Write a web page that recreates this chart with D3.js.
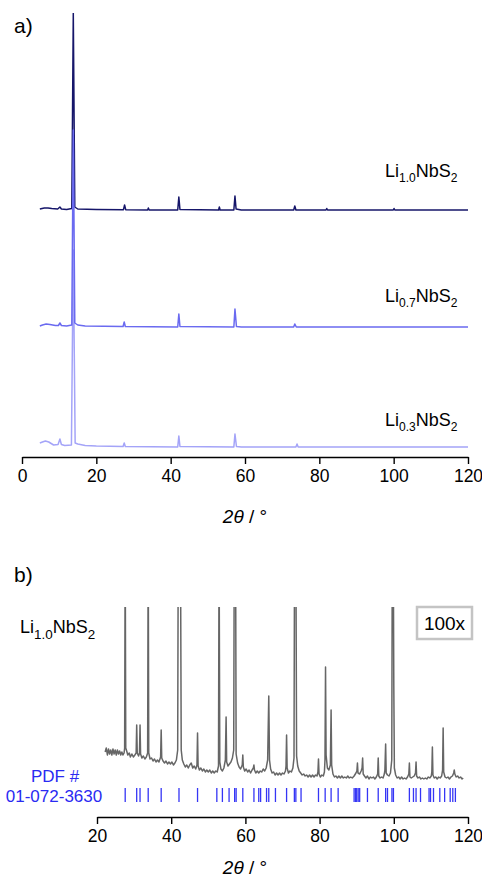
<!DOCTYPE html>
<html lang="en">
<head>
<meta charset="UTF-8" />
<title>XRD LixNbS2</title>
<script src="https://d3js.org/d3.v7.min.js"></script>
<style>
    body { margin: 0; background: #fff; font-family: "Liberation Sans", Arial, sans-serif; }
    .axis path, .axis line { stroke: #000; stroke-width: 1.4; }
    .axis text { font-size: 17.5px; fill: #000; font-family: "Liberation Sans", Arial, sans-serif; }
    .trace { fill: none; stroke-linejoin: round; }
    .lbl { font-size: 18px; fill: #000; }
    .pdf { font-size: 17px; fill: #2a2af2; }
</style>
</head>
<body>
<div id="chart"></div>
<script>
// panel a: [2theta, intensity above its own baseline]
var li10 = [[4.8,1],[6,2],[7,2],[8,1.5],[9.6,1],[10.2,3],[10.6,1],[12,0.5],[13.4,1.5],[13.8,197],[14.2,3],[15,1],[20,0.5],
    [27.3,0.3],[27.6,5],[27.9,0.3],[33.8,0],[34.0,2],[34.2,0],[41.9,0],[42.2,13],[42.5,0.5],[52.9,0],[53.1,3],[53.3,0],
    [57.0,0],[57.3,14],[57.6,1],[59,0],[73.1,0],[73.4,4],[73.7,0],[81.8,0],[82,1.5],[82.2,0],[99.9,0],[100.1,1.5],[100.3,0],[120,0]];
var li07 = [[4.8,1],[5.5,2],[6.5,3],[7.5,2.5],[9,1.5],[9.8,1.5],[10.2,4],[10.6,1.5],[12,1],[13.4,2],[13.8,197],[14.2,4],[15,2],[17,1],
    [27.2,0.5],[27.5,5],[27.8,0.5],[41.9,0],[42.2,13],[42.5,0.5],[57.0,0],[57.3,18],[57.7,0.5],[59,0],[73.1,0],[73.4,3],[73.8,0],[120,0]];
var li03 = [[4.8,4],[5.5,5],[6.3,6],[7.2,5],[8.5,2],[9.7,2.5],[10.2,8],[10.6,2.5],[11.5,1.5],[13.3,2],[13.8,197],[14.3,4],[15,3],[17,1.5],
    [20,1],[27.2,0.5],[27.5,4],[27.8,0.5],[41.9,0],[42.2,11],[42.5,0.5],[57.0,0],[57.3,13],[57.7,0.5],[59,0],[73.7,0],[74,3],[74.3,0],[120,0]];
var offsetsA = [237, 120, 0];
var namesA = ["1.0", "0.7", "0.3"];
var colorsA = ["#16166a", "#6a6af0", "#a4a4f8"];

// panel b: Li1.0NbS2 x100, [2theta, counts]
var li10zoom = [[22.2,38],[22.5,42],[22.8,35],[23.1,41],[23.4,36],[23.7,40],[24,35],[24.3,41],[24.6,36],[24.9,40],[25.2,35],[25.5,40],
    [25.8,36],[26.1,39],[26.4,35],[26.7,38],[27.0,35],[27.3,37],[27.45,42],[27.6,250],[27.75,42],[28,39],[28.3,35],[28.7,37],[29,33],[29.4,36],
    [29.8,33],[30.2,35],[30.55,37],[30.7,65],[30.85,37],[31.2,34],[31.45,37],[31.6,65],[31.75,36],[32.1,32],[32.5,34],[32.9,31],[33.3,33],
    [33.65,37],[33.8,250],[33.95,37],[34.3,31],[34.7,32],[35.1,29],[35.5,31],[35.9,28],[36.3,30],[36.7,28],[37.15,33],[37.3,60],[37.45,32],
    [37.8,29],[38.2,27],[38.6,29],[39,26],[39.4,28],[39.8,26],[40.2,28],[40.6,25],[41,27],[41.4,30],[41.75,40],[41.9,250],[42.5,250],[42.7,40],
    [43,30],[43.4,26],[43.8,23],[44.2,25],[44.6,22],[45,25],[45.4,27],[45.8,22],[46.2,24],[46.6,21],[46.95,25],[47.1,57],[47.25,24],[47.6,20],
    [48,22],[48.4,19],[48.8,21],[49.2,18],[49.6,20],[50,18],[50.4,20],[50.8,17],[51.2,19],[51.6,17],[52,19],[52.4,18],[52.75,24],[52.9,250],
    [53.1,28],[53.4,21],[53.8,19],[54.2,22],[54.6,30],[54.8,73],[54.95,28],[55.3,24],[55.7,26],[56.1,28],[56.5,32],[56.85,40],[57.0,250],[57.35,250],
    [57.5,36],[57.9,27],[58.3,23],[58.7,21],[59.15,25],[59.3,35],[59.45,23],[59.8,19],[60.2,21],[60.6,18],[61,20],[61.4,17],[61.8,20],[62.15,22],
    [62.3,25],[62.45,20],[62.8,17],[63.2,19],[63.6,17],[64,19],[64.4,18],[64.8,21],[65.2,19],[65.6,22],[66.0,30],[66.3,94],[66.5,30],[66.8,21],
    [67.2,17],[67.6,18],[68,15],[68.4,17],[68.8,15],[69.2,17],[69.6,15],[70,17],[70.4,16],[70.8,19],[70.95,24],[71.1,55],[71.25,22],[71.6,17],
    [72,19],[72.4,18],[72.8,22],[73.1,32],[73.25,250],[73.6,250],[73.8,34],[74.1,24],[74.5,19],[74.9,17],[75.3,15],[75.7,16],[76.1,14],[76.5,15],
    [76.9,13],[77.3,15],[77.7,13],[78.1,15],[78.5,13],[78.9,15],[79.3,14],[79.55,18],[79.7,31],[79.85,16],[80.2,13],[80.6,15],[81,14],[81.3,18],
    [81.45,30],[81.6,123],[81.75,35],[82.1,22],[82.5,20],[82.9,25],[83.1,80],[83.25,25],[83.6,16],[84,13],[84.4,14],[84.8,12],[85.2,14],[85.6,12],
    [86,14],[86.4,12],[86.8,13],[87.2,12],[87.6,14],[88,12],[88.4,13],[88.8,12],[89.3,14],[89.8,17],[90.05,19],[90.2,27],[90.35,17],[90.8,16],
    [91.2,19],[91.45,22],[91.6,32],[91.75,16],[92.1,14],[92.5,12],[92.9,14],[93.3,11],[93.7,13],[94.1,12],[94.5,13],[94.9,11],[95.3,13],[95.65,16],
    [95.8,32],[95.95,14],[96.3,12],[96.7,13],[97.1,12],[97.45,16],[97.6,20],[97.8,46],[97.95,17],[98.3,15],[98.7,14],[99.1,17],[99.45,30],[99.6,250],
    [99.85,250],[100.0,105],[100.15,22],[100.5,15],[100.9,12],[101.3,13],[101.7,11],[102.1,13],[102.5,11],[102.9,12],[103.3,11],[103.7,13],[104.05,16],
    [104.2,27],[104.35,13],[104.7,12],[105.1,13],[105.5,14],[105.85,17],[106.0,28],[106.15,14],[106.5,12],[106.9,13],[107.3,11],[107.7,12],[108.1,11],
    [108.5,12],[108.9,11],[109.3,13],[109.7,12],[110.1,14],[110.25,18],[110.4,43],[110.55,15],[110.9,12],[111.3,13],[111.7,11],[112.1,13],[112.5,12],
    [112.9,14],[113.15,20],[113.3,62],[113.45,18],[113.8,13],[114.2,12],[114.6,13],[115,11],[115.4,13],[115.8,14],[116.15,17],[116.3,20],[116.45,16],
    [116.8,13],[117.2,14],[117.6,12],[118,13],[118.4,11],[118.7,12]];

// PDF 01-072-3630 reflection positions
var pdfRefl = [27.6,30.7,31.6,33.8,37.3,42.1,47.1,52.3,53.8,55.6,57.1,57.5,59.3,62.3,63.6,64.1,65.7,66.3,68.1,71.1,
    73.2,73.6,75.0,79.7,81.5,83.1,85.0,89.3,89.7,90.0,90.4,90.8,92.9,95.8,97.8,98.3,99.5,99.9,104.2,105.3,
    106.0,107.2,109.5,109.9,110.7,112.4,113.7,115.2,115.9,116.6];

var xTicksA = [0, 20, 40, 60, 80, 100, 120];
var xTicksB = [20, 40, 60, 80, 100, 120];

var W = 482, H = 879;
var svg = d3.select("#chart").append("svg").attr("width", W).attr("height", H);

var defs = svg.append("defs");
defs.append("clipPath").attr("id", "clipA").append("rect")
    .attr("x", 0).attr("y", 13).attr("width", W).attr("height", 445);
defs.append("clipPath").attr("id", "clipB").append("rect")
    .attr("x", 0).attr("y", 607).attr("width", W).attr("height", 200);

// ---- panel a ----
var xA = d3.scaleLinear().domain([0, 120]).range([22, 468]);
var yA = d3.scaleLinear().domain([0, 440]).range([447, 7]);

svg.append("text").attr("x", 14).attr("y", 33).attr("font-size", 21).text("a)");

var gA = svg.append("g").attr("clip-path", "url(#clipA)");
var seriesA = [li10, li03, li07];
var idx = [0, 2, 1];
seriesA.forEach(function(s, k) {
    var i = idx[k];
    var line = d3.line()
        .x(function(d) { return xA(d[0]); })
        .y(function(d) { return yA(d[1] + offsetsA[i]); });
    gA.append("path").datum(s).attr("class", "trace")
        .attr("stroke", colorsA[i]).attr("stroke-width", 1.5).attr("d", line);
});

function liLabel(x, y, sub, size) {
    var t = svg.append("text").attr("class", "lbl").attr("x", x).attr("y", y).attr("font-size", size);
    t.append("tspan").text("Li");
    t.append("tspan").attr("dy", size * 0.28).attr("font-size", size * 0.67).text(sub);
    t.append("tspan").attr("dy", -size * 0.28).text("NbS");
    t.append("tspan").attr("dy", size * 0.28).attr("font-size", size * 0.67).text("2");
}
liLabel(385, 177, namesA[0], 18);
liLabel(385, 302, namesA[1], 18);
liLabel(385, 426, namesA[2], 18);

svg.append("g").attr("class", "axis").attr("transform", "translate(0,457)")
    .call(d3.axisBottom(xA).tickValues(xTicksA).tickSize(7).tickPadding(6).tickSizeOuter(0));

function axisTitle(y) {
    var t = svg.append("text").attr("x", 245).attr("y", y).attr("text-anchor", "middle")
        .attr("font-size", 19);
    t.append("tspan").attr("font-style", "italic").text("2\u03B8");
    t.append("tspan").text(" / \u00B0");
}
axisTitle(523);

// ---- panel b ----
var xB = d3.scaleLinear().domain([20, 120]).range([97, 468]);
var yB = d3.scaleLinear().domain([0, 183]).range([790, 607]);

svg.append("text").attr("x", 14).attr("y", 582).attr("font-size", 21).text("b)");

svg.append("g").attr("clip-path", "url(#clipB)")
    .append("path").datum(li10zoom).attr("class", "trace")
    .attr("stroke", "#666").attr("stroke-width", 1.5)
    .attr("d", d3.line().x(function(d) { return xB(d[0]); }).y(function(d) { return yB(d[1]); }));

liLabel(20, 633, "1.0", 20);

svg.append("rect").attr("x", 417).attr("y", 607).attr("width", 55).attr("height", 32)
    .attr("fill", "none").attr("stroke", "#c4c4c4").attr("stroke-width", 2.5);
svg.append("text").attr("x", 444.5).attr("y", 630).attr("text-anchor", "middle")
    .attr("font-size", 19).text("100x");

svg.append("text").attr("class", "pdf").attr("x", 55).attr("y", 782).attr("text-anchor", "middle").text("PDF #");
svg.append("text").attr("class", "pdf").attr("x", 54).attr("y", 802).attr("text-anchor", "middle").text("01-072-3630");

svg.append("g").selectAll("line").data(pdfRefl).enter().append("line")
    .attr("x1", function(d) { return xB(d); }).attr("x2", function(d) { return xB(d); })
    .attr("y1", 788).attr("y2", 802)
    .attr("stroke", "#3535f5").attr("stroke-width", 1.3);

svg.append("g").attr("class", "axis").attr("transform", "translate(0,817)")
    .call(d3.axisBottom(xB).tickValues(xTicksB).tickSize(7).tickPadding(6).tickSizeOuter(0));

axisTitle(874);
</script>
</body>
</html>
